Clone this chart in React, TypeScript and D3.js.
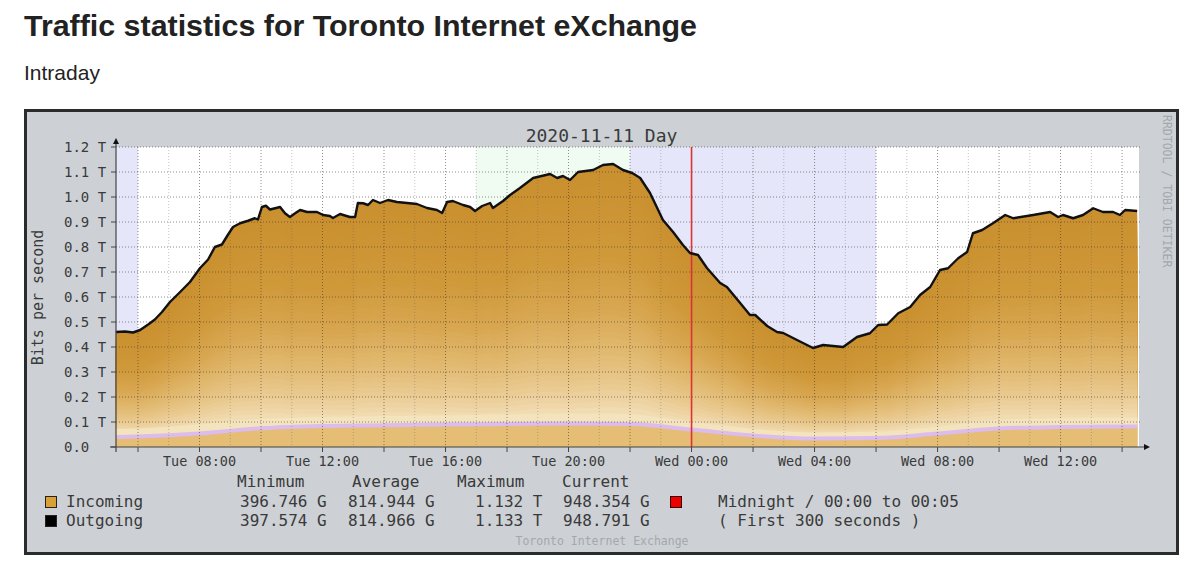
import React from "react";
import * as d3 from "d3";

// ---------- DATA ----------
// hours since Tue 2020-11-10 00:00
const hours = [5.28, 5.58, 5.84, 6.07, 6.33, 6.55, 6.78, 7.04, 7.37, 7.69, 8.02, 8.28, 8.5, 8.73, 8.93, 9.09, 9.32, 9.58, 9.8, 9.9, 10.03, 10.16, 10.29, 10.46, 10.62, 10.78, 10.94, 11.11, 11.27, 11.5, 11.82, 12.02, 12.24, 12.34, 12.57, 12.89, 13.06, 13.15, 13.32, 13.48, 13.64, 13.87, 14.13, 14.42, 14.75, 15.07, 15.4, 15.72, 15.89, 16.05, 16.24, 16.57, 16.8, 16.96, 17.19, 17.45, 17.54, 17.87, 18.1, 18.42, 18.85, 19.4, 19.63, 19.82, 20.05, 20.31, 20.8, 21.12, 21.45, 21.77, 22.07, 22.33, 22.65, 23.07, 23.4, 23.72, 23.95, 24.21, 24.5, 24.93, 25.15, 25.58, 25.9, 26.07, 26.46, 26.78, 26.98, 27.43, 27.95, 28.28, 28.93, 29.38, 29.8, 30.07, 30.36, 30.72, 31.11, 31.43, 31.76, 32.08, 32.34, 32.67, 32.96, 33.15, 33.45, 33.8, 34.2, 34.46, 35.11, 35.66, 35.92, 36.08, 36.41, 36.73, 37.06, 37.38, 37.71, 37.93, 38.1, 38.49];
// incoming traffic, Tbit/s
const incoming = [0.46, 0.462, 0.458, 0.468, 0.49, 0.51, 0.54, 0.58, 0.62, 0.66, 0.716, 0.75, 0.8, 0.81, 0.85, 0.88, 0.895, 0.905, 0.915, 0.91, 0.96, 0.965, 0.95, 0.955, 0.96, 0.935, 0.92, 0.935, 0.948, 0.94, 0.94, 0.928, 0.924, 0.916, 0.932, 0.92, 0.92, 0.976, 0.975, 0.968, 0.988, 0.976, 0.988, 0.98, 0.976, 0.972, 0.956, 0.948, 0.936, 0.98, 0.984, 0.968, 0.96, 0.944, 0.964, 0.976, 0.956, 0.984, 1.008, 1.036, 1.076, 1.092, 1.076, 1.084, 1.068, 1.1, 1.108, 1.128, 1.132, 1.108, 1.096, 1.076, 1.016, 0.908, 0.86, 0.808, 0.776, 0.768, 0.716, 0.656, 0.64, 0.576, 0.528, 0.528, 0.484, 0.46, 0.456, 0.428, 0.396, 0.408, 0.4, 0.44, 0.455, 0.488, 0.49, 0.535, 0.56, 0.608, 0.64, 0.708, 0.715, 0.755, 0.78, 0.855, 0.868, 0.895, 0.928, 0.915, 0.928, 0.94, 0.92, 0.928, 0.915, 0.928, 0.955, 0.94, 0.94, 0.928, 0.948, 0.944];

// faint lower series (pink trace) and pale band beneath the gradient
const lowHours = [5.28, 6, 8, 10, 12, 14, 16, 18, 20, 22, 24, 26, 28, 30, 32, 34, 36, 38, 38.5];
const lowLine = [0.04, 0.042, 0.054, 0.075, 0.084, 0.087, 0.09, 0.092, 0.094, 0.092, 0.07, 0.046, 0.034, 0.036, 0.054, 0.074, 0.08, 0.082, 0.082];
const lowBand = [0.072, 0.074, 0.09, 0.112, 0.12, 0.124, 0.126, 0.13, 0.134, 0.13, 0.1, 0.072, 0.058, 0.06, 0.082, 0.108, 0.116, 0.118, 0.118];

const yTicks = [0, 0.1, 0.2, 0.3, 0.4, 0.5, 0.6, 0.7, 0.8, 0.9, 1.0, 1.1, 1.2];
const yTickLabels = ["0.0", "0.1 T", "0.2 T", "0.3 T", "0.4 T", "0.5 T", "0.6 T", "0.7 T", "0.8 T", "0.9 T", "1.0 T", "1.1 T", "1.2 T"];
const xTickHours = [8, 12, 16, 20, 24, 28, 32, 36];
const xTickLabels = ["Tue 08:00", "Tue 12:00", "Tue 16:00", "Tue 20:00", "Wed 00:00", "Wed 04:00", "Wed 08:00", "Wed 12:00"];

const shadeFrom = [5.28, 17, 22];
const shadeTo = [6, 22, 30];
const shadeKind = ["night", "evening", "night"];
const midnightHour = 24;

const legendNames = ["Incoming", "Outgoing"];
const legendHeaders = ["Minimum", "Average", "Maximum", "Current"];
const legendMin = ["396.746 G", "397.574 G"];
const legendAvg = ["814.944 G", "814.966 G"];
const legendMax = ["1.132 T", "1.133 T"];
const legendCur = ["948.354 G", "948.791 G"];
const legendNote = ["Midnight / 00:00 to 00:05", "( First 300 seconds )"];

// ---------- LAYOUT / STYLE ----------
const W = 1200;
const H = 562;
const PL = 116, PR = 1139, PT = 147, PB = 447;
const T0 = 5.285, T1 = 38.55;
const MONO = "'DejaVu Sans Mono', monospace";
const TXT = "#3a3a3a";
const FAINT = "#a4a8ac";

export default function App() {
  const x = d3.scaleLinear().domain([T0, T1]).range([PL, PR]);
  const y = d3.scaleLinear().domain([0, 1.2]).range([PB, PT]);

  const pts: [number, number][] = hours.map((h, i) => [h, incoming[i]]);
  const lowPts: [number, number][] = lowHours.map((h, i) => [h, lowLine[i]]);
  const bandPts: [number, number][] = lowHours.map((h, i) => [h, lowBand[i]]);

  const N = 45;
  const fracs = d3.range(N).map((i) => 1 - (i * 0.9) / (N - 1));
  const colorOf = d3
    .scaleLinear<string>()
    .domain([0, 0.3, 0.5, 0.65, 0.78, 0.86, 0.92])
    .range(["#ca9030", "#cf9839", "#d8a751", "#e1b970", "#eacb93", "#f1dcb2", "#f6e8ca"])
    .interpolate(d3.interpolateRgb)
    .clamp(true);

  const areaScaled = (f: number) =>
    d3
      .area<[number, number]>()
      .x((d) => x(d[0]))
      .y0(y(0))
      .y1((d) => y(d[1] * f))(pts) as string;

  const smoothArea = (data: [number, number][]) =>
    d3
      .area<[number, number]>()
      .curve(d3.curveMonotoneX)
      .x((d) => x(d[0]))
      .y0(y(0))
      .y1((d) => y(d[1]))(data) as string;

  const smoothLine = d3
    .line<[number, number]>()
    .curve(d3.curveMonotoneX)
    .x((d) => x(d[0]))
    .y((d) => y(d[1]));

  const topLine = d3
    .line<[number, number]>()
    .x((d) => x(d[0]))
    .y((d) => y(d[1]));

  const hourGrid = d3.range(Math.ceil(T0), Math.floor(T1) + 1);
  const majorTicks = hourGrid.filter((h) => h % 2 === 0);

  return (
    <svg
      width={W}
      height={H}
      viewBox={`0 0 ${W} ${H}`}
      style={{ position: "absolute", left: 0, top: 0, background: "#fff" }}
    >
      {/* page heading */}
      <text x={24} y={36} fontFamily="'Liberation Sans', Arial, sans-serif" fontWeight="bold" fontSize={30} fill="#222" textLength={673} lengthAdjust="spacingAndGlyphs">
        Traffic statistics for Toronto Internet eXchange
      </text>
      <text x={24} y={80} fontFamily="'Liberation Sans', Arial, sans-serif" fontSize={21} fill="#222">
        Intraday
      </text>

      {/* graph canvas */}
      <rect x={25.5} y={110.5} width={1152} height={443} fill="#cdd1d5" stroke="#2b2b2b" strokeWidth={3} />

      {/* plot background and shading */}
      <rect x={PL} y={PT} width={PR - PL} height={PB - PT} fill="#ffffff" />
      {shadeFrom.map((f, i) => (
        <rect
          key={"sh" + i}
          x={x(Math.max(f, T0))}
          y={PT}
          width={x(shadeTo[i]) - x(Math.max(f, T0))}
          height={PB - PT}
          fill={shadeKind[i] === "night" ? "#e6e6fa" : "#f0fcf2"}
        />
      ))}

      {/* gradient area layers */}
      {fracs.map((f, i) => (
        <path key={"ly" + i} d={areaScaled(f)} fill={colorOf(1 - f)} />
      ))}
      <path d={smoothArea(bandPts)} fill="#f4e4bd" />
      <path d={smoothArea(lowPts)} fill="#e5bd74" />
      <path d={smoothLine(lowPts) as string} fill="none" stroke="#dcbcec" strokeWidth={4} />

      {/* grid */}
      {hourGrid.map((h) => (
        <line
          key={"vg" + h}
          x1={x(h)}
          x2={x(h)}
          y1={PT}
          y2={PB}
          stroke={h % 2 === 0 ? "rgba(60,50,40,0.55)" : "rgba(90,90,90,0.35)"}
          strokeWidth={1}
          strokeDasharray="1,2"
        />
      ))}
      {yTicks.slice(1).map((v) => (
        <line
          key={"hg" + v}
          x1={PL}
          x2={PR + 2}
          y1={y(v)}
          y2={y(v)}
          stroke="rgba(60,50,40,0.55)"
          strokeWidth={1}
          strokeDasharray="1,2"
        />
      ))}

      {/* midnight marker */}
      <line x1={x(midnightHour)} x2={x(midnightHour)} y1={PT} y2={PB} stroke="#dd3333" strokeWidth={1.6} />

      {/* traffic outline */}
      <path d={topLine(pts) as string} fill="none" stroke="#111" strokeWidth={2.4} strokeLinejoin="round" />

      {/* axes */}
      <line x1={PL} x2={PL} y1={PB + 5} y2={PT - 4} stroke="#444" strokeWidth={1.2} />
      <path d={`M${PL - 3},${PT - 3} L${PL + 3},${PT - 3} L${PL},${PT - 9} Z`} fill="#111" />
      <line x1={PL - 6} x2={PR + 6} y1={PB} y2={PB} stroke="#444" strokeWidth={1.2} />
      <path d={`M${PR + 5},${PB - 3} L${PR + 5},${PB + 3} L${PR + 11},${PB} Z`} fill="#111" />
      {yTicks.map((v) => (
        <line key={"yt" + v} x1={PL - 5} x2={PL} y1={y(v)} y2={y(v)} stroke="#444" strokeWidth={1} />
      ))}
      {majorTicks.map((h) => (
        <line key={"xt" + h} x1={x(h)} x2={x(h)} y1={PB} y2={PB + 5} stroke="#444" strokeWidth={1} />
      ))}

      {/* tick labels */}
      {yTicks.map((v, i) => (
        <text key={"yl" + v} x={64} y={y(v) + 5} fontFamily={MONO} fontSize={14} fill={TXT}>
          {yTickLabels[i]}
        </text>
      ))}
      {xTickHours.map((h, i) => (
        <text key={"xl" + h} x={x(h)} y={466} textAnchor="middle" fontFamily={MONO} fontSize={13.5} fill={TXT}>
          {xTickLabels[i]}
        </text>
      ))}

      {/* titles */}
      <text x={601.5} y={142} textAnchor="middle" fontFamily={MONO} fontSize={18} fill={TXT}>
        2020-11-11 Day
      </text>
      <text transform="translate(43,297.5) rotate(-90)" textAnchor="middle" fontFamily={MONO} fontSize={15} fill={TXT}>
        Bits per second
      </text>
      <text transform="translate(1163,115) rotate(90)" fontFamily={MONO} fontSize={11.5} fill={FAINT}>
        RRDTOOL / TOBI OETIKER
      </text>
      <text x={602} y={545} textAnchor="middle" fontFamily={MONO} fontSize={11.5} fill={FAINT}>
        Toronto Internet Exchange
      </text>

      {/* legend */}
      {legendHeaders.map((t, i) => (
        <text key={"lh" + i} x={[237, 352, 457, 562][i]} y={487} fontFamily={MONO} fontSize={16} fill={TXT}>
          {t}
        </text>
      ))}
      {legendNames.map((n, r) => {
        const by = 507 + r * 19;
        return (
          <g key={"lr" + r}>
            <rect x={45.5} y={by - 10.5} width={11} height={11} fill={r === 0 ? "#d9a033" : "#000"} stroke="#222" strokeWidth={1} />
            <text x={66} y={by} fontFamily={MONO} fontSize={16} fill={TXT}>{n}</text>
            <text x={240} y={by} fontFamily={MONO} fontSize={16} fill={TXT}>{legendMin[r]}</text>
            <text x={348} y={by} fontFamily={MONO} fontSize={16} fill={TXT}>{legendAvg[r]}</text>
            <text x={475} y={by} fontFamily={MONO} fontSize={16} fill={TXT}>{legendMax[r]}</text>
            <text x={563} y={by} fontFamily={MONO} fontSize={16} fill={TXT}>{legendCur[r]}</text>
            <text x={718} y={by} fontFamily={MONO} fontSize={16} fill={TXT}>{legendNote[r]}</text>
          </g>
        );
      })}
      <rect x={670.5} y={496.5} width={11} height={11} fill="#ee0000" stroke="#330000" strokeWidth={1} />
    </svg>
  );
}
